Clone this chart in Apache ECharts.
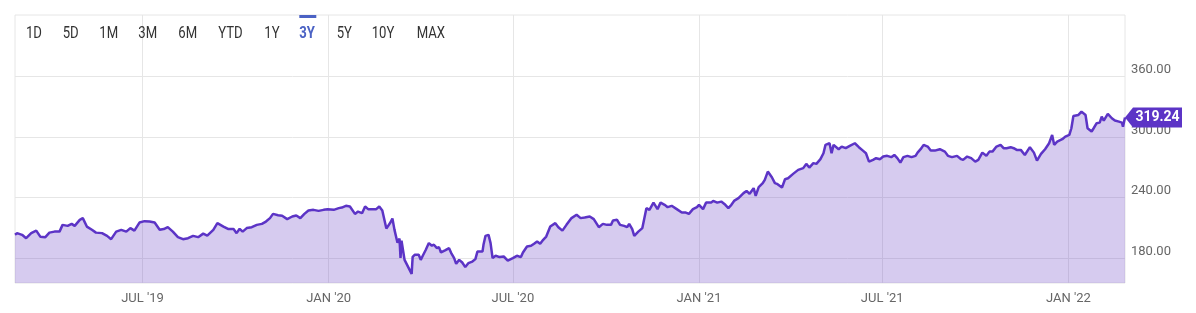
<!DOCTYPE html>
<html>
<head>
<meta charset="utf-8">
<script src="https://cdn.jsdelivr.net/npm/echarts@6/dist/echarts.min.js"></script>
<style>
  html, body { margin: 0; padding: 0; background: #fff; }
  #chart { width: 1196px; height: 313px; }
</style>
</head>
<body>
<div id="chart"></div>
<script>
// 价格数据(按月分行)
const dates = [
  '2019-02-25', '2019-02-27',
  '2019-03-04', '2019-03-08', '2019-03-13', '2019-03-18', '2019-03-22', '2019-03-27', '2019-03-31',
  '2019-04-05', '2019-04-10', '2019-04-13', '2019-04-18', '2019-04-22', '2019-04-25', '2019-04-30',
  '2019-05-03', '2019-05-07', '2019-05-12', '2019-05-16', '2019-05-22', '2019-05-27', '2019-05-31',
  '2019-06-05', '2019-06-10', '2019-06-15', '2019-06-19', '2019-06-23', '2019-06-28',
  '2019-07-03', '2019-07-08', '2019-07-13', '2019-07-18', '2019-07-22', '2019-07-26', '2019-07-31',
  '2019-08-05', '2019-08-10', '2019-08-15', '2019-08-20', '2019-08-25', '2019-08-30',
  '2019-09-03', '2019-09-09', '2019-09-13', '2019-09-19', '2019-09-24', '2019-09-29',
  '2019-10-02', '2019-10-05', '2019-10-08', '2019-10-12', '2019-10-17', '2019-10-22', '2019-10-27', '2019-10-31',
  '2019-11-04', '2019-11-07', '2019-11-12', '2019-11-16', '2019-11-21', '2019-11-26', '2019-11-30',
  '2019-12-04', '2019-12-08', '2019-12-12', '2019-12-17', '2019-12-22', '2019-12-27', '2019-12-31',
  '2020-01-06', '2020-01-11', '2020-01-14', '2020-01-18', '2020-01-22', '2020-01-27', '2020-01-30',
  '2020-02-03', '2020-02-06', '2020-02-09', '2020-02-14', '2020-02-17', '2020-02-20', '2020-02-23', '2020-02-27',
  '2020-03-02', '2020-03-04', '2020-03-06', '2020-03-09', '2020-03-11', '2020-03-12', '2020-03-13', '2020-03-16', '2020-03-18', '2020-03-20', '2020-03-23', '2020-03-24', '2020-03-26', '2020-03-30',
  '2020-04-01', '2020-04-03', '2020-04-06', '2020-04-09', '2020-04-12', '2020-04-14', '2020-04-17', '2020-04-19', '2020-04-21', '2020-04-25', '2020-04-29',
  '2020-05-01', '2020-05-04', '2020-05-06', '2020-05-09', '2020-05-12', '2020-05-15', '2020-05-18', '2020-05-22', '2020-05-25', '2020-05-27',
  '2020-06-01', '2020-06-02', '2020-06-04', '2020-06-07', '2020-06-09', '2020-06-11', '2020-06-14', '2020-06-18', '2020-06-22', '2020-06-26',
  '2020-07-01', '2020-07-05', '2020-07-09', '2020-07-11', '2020-07-15', '2020-07-19', '2020-07-22', '2020-07-25', '2020-07-28', '2020-07-31',
  '2020-08-03', '2020-08-07', '2020-08-12', '2020-08-15', '2020-08-19', '2020-08-23', '2020-08-28',
  '2020-09-02', '2020-09-06', '2020-09-10', '2020-09-15', '2020-09-19', '2020-09-24', '2020-09-28',
  '2020-10-02', '2020-10-06', '2020-10-08', '2020-10-12', '2020-10-15', '2020-10-19', '2020-10-22', '2020-10-24', '2020-10-27', '2020-10-29',
  '2020-11-02', '2020-11-06', '2020-11-09', '2020-11-10', '2020-11-13', '2020-11-17', '2020-11-21', '2020-11-24', '2020-11-28',
  '2020-12-01', '2020-12-05', '2020-12-10', '2020-12-15', '2020-12-19', '2020-12-22', '2020-12-26', '2020-12-30',
  '2021-01-01', '2021-01-05', '2021-01-08', '2021-01-13', '2021-01-15', '2021-01-19', '2021-01-23', '2021-01-27', '2021-01-30',
  '2021-02-02', '2021-02-05', '2021-02-09', '2021-02-14', '2021-02-17', '2021-02-20', '2021-02-24', '2021-02-26',
  '2021-03-01', '2021-03-05', '2021-03-07', '2021-03-10', '2021-03-14', '2021-03-17', '2021-03-19', '2021-03-24', '2021-03-27', '2021-03-30',
  '2021-04-04', '2021-04-09', '2021-04-14', '2021-04-17', '2021-04-20', '2021-04-24', '2021-04-27',
  '2021-05-01', '2021-05-04', '2021-05-06', '2021-05-10', '2021-05-12', '2021-05-14', '2021-05-19', '2021-05-22', '2021-05-26', '2021-05-30',
  '2021-06-04', '2021-06-08', '2021-06-12', '2021-06-15', '2021-06-18', '2021-06-22', '2021-06-25', '2021-06-29',
  '2021-07-02', '2021-07-06', '2021-07-10', '2021-07-13', '2021-07-16', '2021-07-19', '2021-07-22', '2021-07-26', '2021-07-30',
  '2021-08-03', '2021-08-05', '2021-08-08', '2021-08-11', '2021-08-15', '2021-08-18', '2021-08-22', '2021-08-27',
  '2021-09-01', '2021-09-04', '2021-09-08', '2021-09-13', '2021-09-17', '2021-09-19', '2021-09-23', '2021-09-27',
  '2021-10-01', '2021-10-04', '2021-10-08', '2021-10-12', '2021-10-15', '2021-10-18', '2021-10-22', '2021-10-26', '2021-10-29',
  '2021-11-01', '2021-11-05', '2021-11-08', '2021-11-11', '2021-11-15', '2021-11-19', '2021-11-24', '2021-11-28',
  '2021-12-01', '2021-12-05', '2021-12-09', '2021-12-13', '2021-12-16', '2021-12-18', '2021-12-21', '2021-12-26', '2021-12-29',
  '2022-01-02', '2022-01-04', '2022-01-06', '2022-01-11', '2022-01-14', '2022-01-18', '2022-01-20', '2022-01-24', '2022-01-26', '2022-01-29',
  '2022-02-01', '2022-02-03', '2022-02-05', '2022-02-09', '2022-02-13', '2022-02-16', '2022-02-20', '2022-02-23', '2022-02-24', '2022-02-26'
]
const prices = [
  203, 204.5,
  202.8, 199.5, 204.5, 207, 201, 200.5, 205,
  206, 206, 212.7, 211.7, 213.7, 211.7, 217.7,
  219.4, 211, 207.8, 205, 204.5, 201.8, 198.5,
  206, 207.8, 206, 209.5, 207, 215,
  216.4, 216, 215, 207.8, 208.5, 210.4, 206,
  200.5, 198.5, 199.5, 201.8, 200.5, 204,
  202, 207.8, 214.4, 211, 208.5, 208.5,
  204.5, 208.8, 206, 209.5, 210.4, 212.7, 213.7, 216,
  219.4, 223.6, 222.3, 221.7, 218.4, 221, 222,
  219.4, 223.6, 227, 227.6, 226.6, 227.6, 228.3,
  227.6, 229.3, 229.9, 231.6, 230.9, 223.6, 225.9,
  224.3, 230.9, 228.3, 228.3, 228.3, 230.9, 227, 209,
  215, 219, 208, 195, 199, 180, 197, 178, 174, 170, 164, 181, 183, 183,
  178, 182, 188, 194.6, 192, 193, 189.6, 190.6, 185.3, 187.3, 189.6,
  185, 179.7, 174, 178, 175.3, 170.8, 174.7, 176.3, 178.7, 186.2,
  186.2, 192.9, 201.8, 202.8, 194.6, 179.7, 182, 180.7, 181.3, 177.3,
  179.7, 182, 180.7, 185.3, 191.2, 191.9, 193.9, 196.2, 193.9, 197.9,
  201.1, 211, 214.4, 210.4, 207, 212.7, 219.4,
  222.7, 219.4, 220, 221, 218.4, 210.4, 213.7,
  212.7, 212.7, 217, 217.7, 212.7, 211.7, 210.4, 213.7, 208.5, 201.8,
  206, 209.5, 224.3, 229.3, 227.6, 234.8, 228.3, 234.8, 232.6,
  230.3, 231.6, 228.3, 224.9, 224.9, 223.6, 228.3, 230.3,
  232.6, 228.3, 234.8, 234.8, 236.5, 234.8, 235.8, 232.6, 229.3,
  232.6, 236.8, 239.2, 244.2, 246.4, 243.5, 249.1, 241.5,
  250.1, 254.1, 257.4, 265.6, 260, 254.1, 253.4, 249.7, 258, 259,
  263.3, 267.3, 269, 273.2, 269.6, 274, 273.2,
  277.9, 283.8, 292.1, 293.7, 283.8, 292.1, 287.8, 290.4, 288.8, 291.1,
  293.7, 289.8, 286.4, 283.8, 275.5, 277.2, 278.9, 277.9,
  280.5, 281.2, 279.9, 282.1, 278.9, 274.5, 279.9, 281.2, 279.9,
  281.2, 284.4, 287.8, 292.1, 290.4, 286.4, 286.4, 287.8,
  285.4, 281.2, 279.9, 281.2, 277.9, 277.2, 280.5, 278.9,
  275.5, 277.2, 284.4, 281.2, 285.4, 285.4, 290.4, 292.1, 288.8,
  288.8, 289.8, 288.8, 287.1, 287.1, 282.1, 289.8, 284.4,
  276.5, 283.1, 287.8, 293.7, 302, 292.1, 295.3, 297.7, 300.3,
  302, 308.6, 320.8, 321.8, 325.1, 321.8, 308.6, 305.3, 308.6, 313.6,
  314.2, 320.2, 316.2, 322.8, 318.5, 316.2, 315.2, 314.2, 310.2, 319.24
]
const xTicks = ['2019-07-01', '2020-01-01', '2020-07-01', '2021-01-01', '2021-07-01', '2022-01-01']
const yTicks = [180, 240, 300, 360]
const rangeButtons = ['1D', '5D', '1M', '3M', '6M', 'YTD', '1Y', '3Y', '5Y', '10Y', 'MAX']
const activeButton = '3Y'

const MONTHS = ['JAN', 'FEB', 'MAR', 'APR', 'MAY', 'JUN', 'JUL', 'AUG', 'SEP', 'OCT', 'NOV', 'DEC']
const toTime = (s) => {
  const [y, m, d] = s.split('-').map(Number)
  return new Date(y, m - 1, d).getTime()
}

const lineColor = '#5c34c6'
const activeColor = '#4b62c4'
const lastTime = toTime(dates[dates.length - 1])
const lastValue = prices[prices.length - 1]

// 按钮左侧位置
const buttonLeft = [26, 62.7, 99.3, 138.3, 178.3, 218.3, 264.3, 299.3, 336.7, 371.7, 416.7]
const buttons = rangeButtons.map((t, i) => ({
  type: 'text',
  x: buttonLeft[i],
  y: 34,
  scaleX: 0.82,
  z: 100,
  style: {
    text: t,
    fontSize: 16,
    fontFamily: 'Roboto',
    fontWeight: t === activeButton ? 'bold' : 'normal',
    fill: t === activeButton ? activeColor : '#333',
    verticalAlign: 'middle'
  }
}))
const activeIdx = rangeButtons.indexOf(activeButton)
buttons.push({
  type: 'rect',
  z: 100,
  shape: { x: buttonLeft[activeIdx], y: 15, width: 17, height: 3 },
  style: { fill: activeColor }
})

const option = {
  animation: false,
  grid: {
    left: 15, right: 71, top: 15, bottom: 30,
    show: true,
    borderColor: '#e6e6e6',
    borderWidth: 1
  },
  // 时间用数值轴(毫秒),刻度只放 1 月和 7 月
  xAxis: {
    type: 'value',
    min: toTime(dates[0]),
    max: lastTime,
    axisLine: { show: false },
    axisTick: { show: false, customValues: xTicks.map(toTime) },
    axisLabel: {
      customValues: xTicks.map(toTime),
      formatter: (v) => {
        const d = new Date(v)
        return MONTHS[d.getMonth()] + " '" + String(d.getFullYear()).slice(2)
      },
      color: '#666',
      fontSize: 13,
      fontFamily: 'Roboto',
      margin: 9
    },
    splitLine: { show: true, lineStyle: { color: '#e6e6e6', width: 1 } }
  },
  yAxis: {
    type: 'value',
    position: 'right',
    min: 155,
    max: 421,
    axisLine: { show: false },
    axisTick: { show: false, customValues: yTicks },
    axisLabel: {
      customValues: yTicks,
      formatter: (v) => v.toFixed(2),
      verticalAlign: 'bottom',
      color: '#666',
      fontSize: 13,
      fontFamily: 'Roboto',
      margin: 6
    },
    splitLine: { show: true, lineStyle: { color: '#e6e6e6', width: 1 } }
  },
  graphic: buttons,
  series: [{
    type: 'line',
    data: dates.map((d, i) => [toTime(d), prices[i]]),
    showSymbol: false,
    clip: false,
    lineStyle: { color: lineColor, width: 2.5 },
    itemStyle: { color: lineColor },
    areaStyle: { origin: 'start', color: 'rgba(104, 63, 196, 0.27)', opacity: 1 },
    markPoint: {
      symbol: 'path://M0,10L8,0L57,0L57,20L8,20Z',
      symbolSize: [57, 20],
      symbolOffset: ['50%', 0],
      itemStyle: { color: lineColor },
      label: {
        show: true,
        position: 'inside',
        offset: [4, 0],
        color: '#fff',
        fontWeight: 'bold',
        fontSize: 14,
        fontFamily: 'Roboto',
        formatter: lastValue.toFixed(2)
      },
      data: [{ coord: [lastTime, lastValue] }]
    }
  }]
}

const myChart = echarts.init(document.getElementById('chart'))
myChart.setOption(option)
</script>
</body>
</html>
